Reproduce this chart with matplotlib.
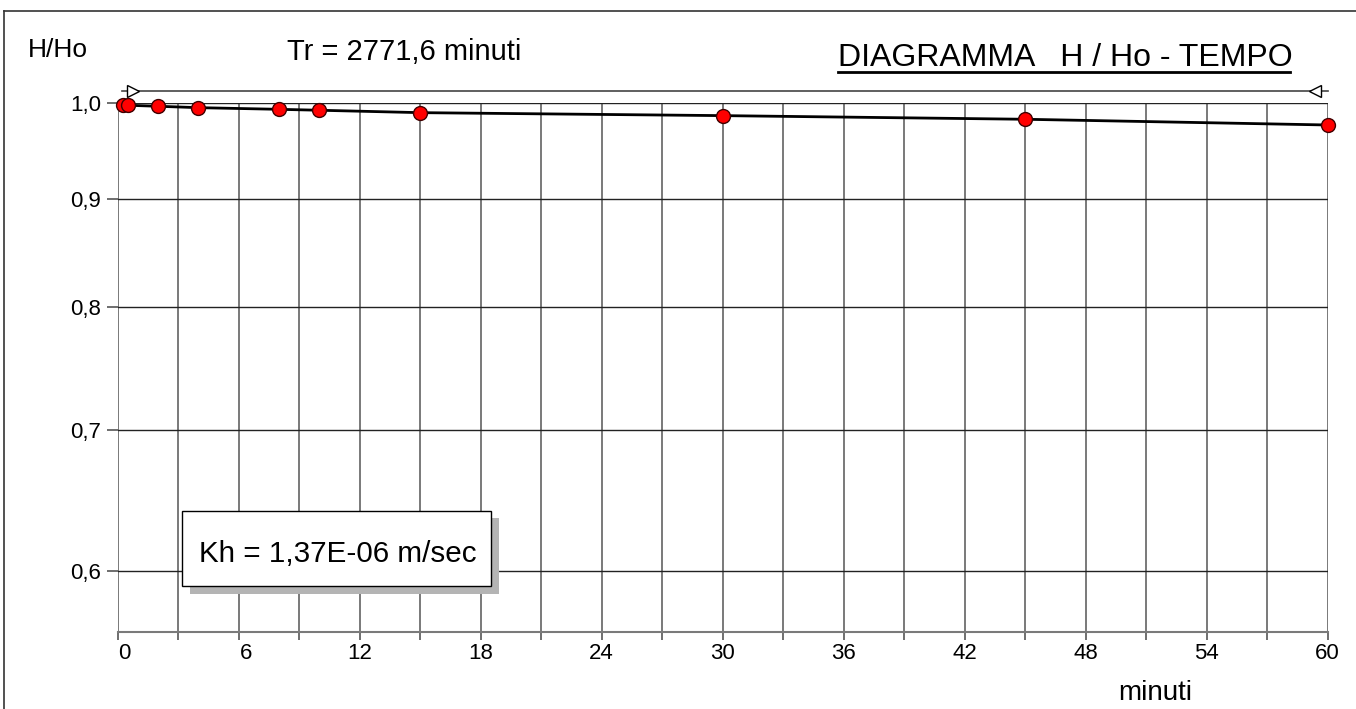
#Diagramma H/Ho - tempo (prova di permeabilita')

import matplotlib
matplotlib.use("Agg")
import matplotlib.pyplot as plt
from matplotlib.lines import Line2D
from matplotlib.patches import Rectangle
from matplotlib.ticker import MultipleLocator, FixedLocator, NullLocator
import matplotlib.transforms as mtransforms

# dati
tempo = [0.25, 0.5, 2, 4, 8, 10, 15, 30, 45, 60]
h_ho = [0.9973, 0.997, 0.9959, 0.9944, 0.9926, 0.9916, 0.989, 0.9858, 0.9819, 0.9758]

y_ticks = [0.6, 0.7, 0.8, 0.9, 1.0]
y_labels = ["0,6", "0,7", "0,8", "0,9", "1,0"]
x_ticks = [0, 6, 12, 18, 24, 30, 36, 42, 48, 54, 60]

titolo = "DIAGRAMMA   H / Ho - TEMPO"
tr_text = "Tr = 2771,6 minuti"
kh_text = "Kh = 1,37E-06 m/sec"

W, H = 1356, 709
plt.rcParams['font.family'] = ['Liberation Sans', 'DejaVu Sans']

fig = plt.figure(figsize=(W / 100, H / 100), dpi=100)


def fx(x):
    return x / W


def fy(y):
    return 1 - y / H


# area del grafico in pixel: x 117.7-1327.5, y 102.5-632.3
ax = fig.add_axes([fx(117.7), fy(632.3), fx(1327.5 - 117.7), (632.3 - 102.5) / H])
ax.set_yscale("log")
ax.set_xlim(0, 60)
ax.set_ylim(0.5615, 1.0)

for s in ["top", "right", "left"]:
    ax.spines[s].set_visible(False)
ax.spines["bottom"].set_color("#7a7a7a")
ax.spines["bottom"].set_linewidth(1.5)

ax.yaxis.set_major_locator(FixedLocator(y_ticks))
ax.yaxis.set_minor_locator(NullLocator())
ax.set_yticklabels(y_labels)
ax.xaxis.set_major_locator(FixedLocator(x_ticks))
ax.xaxis.set_minor_locator(MultipleLocator(3))
ax.set_xticklabels([str(t) for t in x_ticks])

ax.tick_params(axis="y", which="major", length=8, width=1.2, color="#555555",
               labelsize=16, pad=4)
ax.tick_params(axis="x", which="both", length=6, width=1.2, color="#555555",
               labelsize=16, pad=2)

# le etichette a una cifra sono spostate un po' a destra come nell'originale
for lab in ax.get_xticklabels():
    if len(lab.get_text()) == 1:
        lab.set_transform(lab.get_transform() +
                          mtransforms.ScaledTranslation(7 / 100, 0, fig.dpi_scale_trans))

ax.grid(True, axis="x", which="both", color="#6e6e6e", linewidth=1.3)
ax.grid(True, axis="y", which="major", color="#222222", linewidth=1.0)
ax.set_axisbelow(True)

# curva e punti
ax.plot(tempo, h_ho, color="black", linewidth=2.0, zorder=3, clip_on=False)
ax.plot(tempo, h_ho, linestyle="none", marker="o", markersize=10,
        markerfacecolor="red", markeredgecolor="#400000", markeredgewidth=1.0,
        zorder=4, clip_on=False)

# linea Tr sopra il grafico
trans = mtransforms.blended_transform_factory(ax.transData, ax.transAxes)
ax.plot([0.2, 60], [1.022, 1.022], color="#444444", linewidth=1.2,
        transform=trans, clip_on=False)
ax.plot([0.75], [1.022], marker=">", markersize=9, markerfacecolor="white",
        markeredgecolor="black", markeredgewidth=1.0, transform=trans, clip_on=False)
ax.plot([59.4], [1.022], marker="<", markersize=9, markerfacecolor="white",
        markeredgecolor="black", markeredgewidth=1.0, transform=trans, clip_on=False)

# testi
fig.text(fx(28), fy(57), "H/Ho", fontsize=19, ha="left", va="baseline")
fig.text(fx(287), fy(60), tr_text, fontsize=21, ha="left", va="baseline")
fig.text(fx(838), fy(66), titolo, fontsize=23, ha="left", va="baseline")
fig.add_artist(Line2D([fx(838), fx(1290)], [fy(71.5), fy(71.5)],
                      color="black", linewidth=2))
fig.text(fx(1118), fy(700), "minuti", fontsize=20, ha="left", va="baseline")

# riquadro Kh con ombra
fig.add_artist(Rectangle((fx(190), fy(594.3)), fx(499.3 - 190), (594.3 - 518) / H,
                         facecolor="#b4b4b4", edgecolor="none"))
fig.add_artist(Rectangle((fx(182.3), fy(586.3)), fx(491.3 - 182.3), (586.3 - 511) / H,
                         facecolor="white", edgecolor="black", linewidth=1.0))
fig.text(fx(337.5), fy(561.7), kh_text, fontsize=21.3, ha="center", va="baseline")

# cornice esterna
fig.add_artist(Line2D([fx(4), fx(4)], [fy(11), 0], color="#333333", linewidth=1.2))
fig.add_artist(Line2D([fx(4), 1], [fy(11), fy(11)], color="#333333", linewidth=1.2))

fig.savefig("out.png", dpi=100)
